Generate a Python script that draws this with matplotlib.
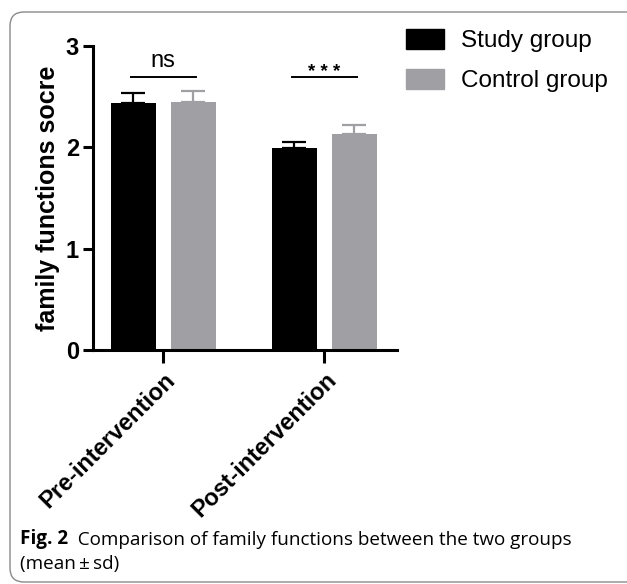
import numpy as np
import matplotlib
matplotlib.use('Agg')
import matplotlib.pyplot as plt
from matplotlib.patches import FancyBboxPatch, Patch

# data
groups = ['Pre-intervention', 'Post-intervention']
series = ['Study group', 'Control group']
study_mean = [2.44, 1.99]
study_sd = [0.10, 0.06]
control_mean = [2.45, 2.13]
control_sd = [0.11, 0.09]
sig_labels = ['ns', '* * *']

colors = ['#000000', '#a0a0a4']

plt.rcParams['font.family'] = ['Liberation Sans', 'DejaVu Sans']

fig = plt.figure(figsize=(6.27, 5.84), dpi=100)

# background layer in pixel coords: border + caption
bg = fig.add_axes([0, 0, 1, 1], zorder=0)
bg.set_xlim(0, 627)
bg.set_ylim(584, 0)
bg.axis('off')
bg.add_patch(FancyBboxPatch((10, 12), 660, 570, boxstyle='round,pad=0,rounding_size=14',
                            fc='white', ec='#8a8a8a', lw=1.0))
cap_size = 13.6
cap1 = bg.text(20, 539, 'Fig. 2', fontsize=cap_size, fontweight='bold', family='Open Sans',
               va='center', ha='left')
bg.annotate('  Comparison of family functions between the two groups', xy=(1, 0),
            xycoords=cap1, va='bottom', ha='left', fontsize=cap_size, family='Open Sans')
bg.text(20, 564, '(mean\u2009\u00b1\u2009sd)', fontsize=cap_size, family='Open Sans',
        va='center', ha='left')

ax = fig.add_axes([93 / 627, 1 - 350 / 584, (397 - 93) / 627, (350 - 46) / 584], zorder=1)
ax.patch.set_alpha(0)

x = np.arange(len(groups))
width = 0.28
offset = 0.186

for i, (means, sds) in enumerate([(study_mean, study_sd), (control_mean, control_sd)]):
    pos = x + (i * 2 - 1) * offset
    ax.bar(pos, means, width, color=colors[i], label=series[i], zorder=2)
    ax.errorbar(pos, means, yerr=[np.zeros(len(sds)), sds], fmt='none',
                ecolor=colors[i], elinewidth=1.6, capsize=8.3, capthick=1.6, zorder=1)

# significance annotations
for gi, lab in enumerate(sig_labels):
    y_line = 2.69
    ax.plot([x[gi] - offset - 0.015, x[gi] + offset + 0.015], [y_line, y_line],
            color='black', lw=1.4, clip_on=False)
    if lab == 'ns':
        ax.text(x[gi], y_line + 0.05, lab, ha='center', va='bottom', fontsize=17)
    else:
        ax.text(x[gi], y_line + 0.0, lab, ha='center', va='baseline', fontsize=13.5,
                fontweight='bold')

ax.set_xlim(-0.435, 1.45)
ax.set_ylim(0, 3)
ax.set_yticks([0, 1, 2, 3])
ax.set_xticks(x)
ax.set_xticklabels(groups, rotation=45, ha='right', rotation_mode='anchor',
                   fontsize=17, fontweight='bold')
for lbl in ax.get_yticklabels():
    lbl.set_fontweight('bold')
    lbl.set_fontsize(17)
ax.tick_params(axis='y', length=7, width=2.2, pad=3)
ax.tick_params(axis='x', length=9, width=2.2, pad=4)
for s in ['top', 'right']:
    ax.spines[s].set_visible(False)
for s in ['left', 'bottom']:
    ax.spines[s].set_linewidth(2.2)
ax.set_ylabel('family functions socre', fontsize=18, fontweight='bold', labelpad=4)

handles = [Patch(color=c) for c in colors]
fig.legend(handles, series, loc='upper left', bbox_to_anchor=(394 / 627, 1 - 17 / 584),
           frameon=False, fontsize=17.5, handlelength=1.55, handleheight=0.85,
           handletextpad=0.7, labelspacing=0.7, borderpad=0)

fig.savefig('out.png', dpi=100)
